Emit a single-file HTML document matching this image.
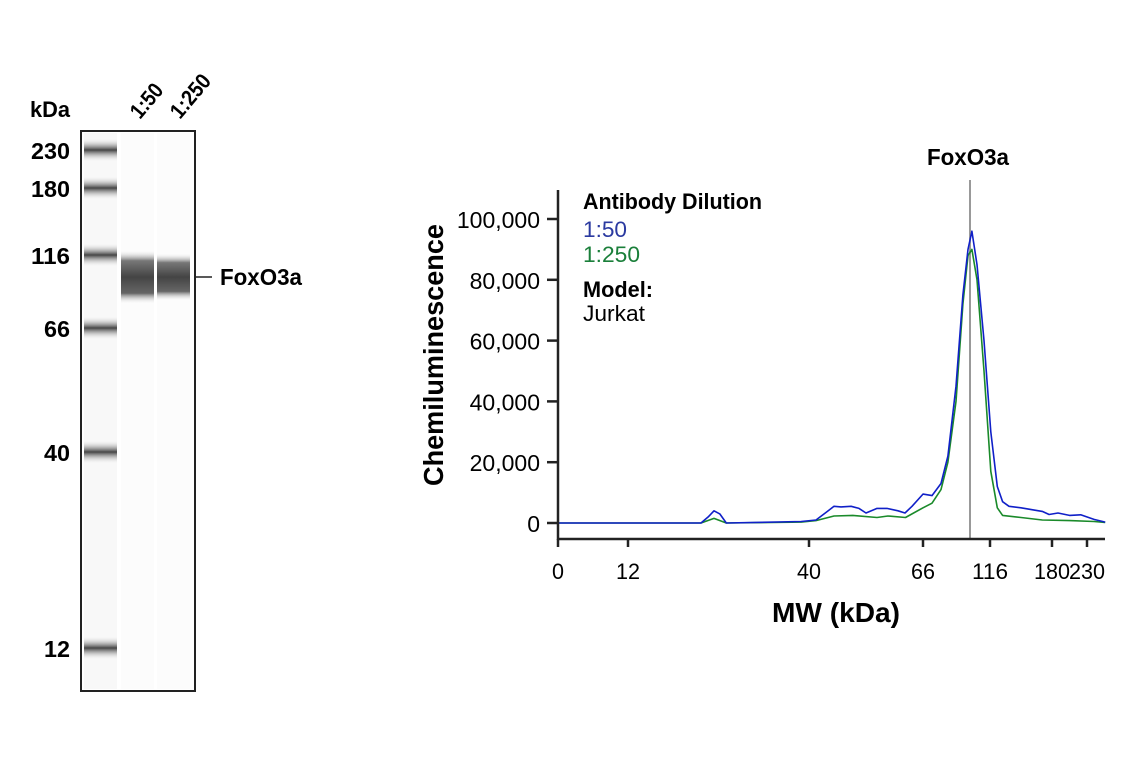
<!DOCTYPE html>
<html><head><meta charset="utf-8"><style>
body{margin:0;background:#fff;}
svg{display:block;font-family:"Liberation Sans",Arial,sans-serif;}
.b{font-weight:bold;}
</style></head><body>
<svg id="fig" width="1141" height="768" viewBox="0 0 1141 768">
<defs>
<linearGradient id="lb" x1="0" y1="0" x2="0" y2="1">
<stop offset="0" stop-color="#fff" stop-opacity="0"/><stop offset="0.5" stop-color="#444"/><stop offset="1" stop-color="#fff" stop-opacity="0"/></linearGradient>
<linearGradient id="sb" x1="0" y1="0" x2="0" y2="1">
<stop offset="0" stop-color="#fff" stop-opacity="0"/><stop offset="0.2" stop-color="#777"/><stop offset="0.5" stop-color="#444"/><stop offset="0.8" stop-color="#666"/><stop offset="1" stop-color="#fff" stop-opacity="0"/></linearGradient>
</defs>
<g id="gel">
<text x="30" y="117" font-size="22" class="b" textLength="40" lengthAdjust="spacingAndGlyphs">kDa</text>
<text transform="translate(140,120) rotate(-50)" font-size="22" class="b" textLength="38" lengthAdjust="spacingAndGlyphs">1:50</text>
<text transform="translate(180,120) rotate(-50)" font-size="22" class="b" textLength="50" lengthAdjust="spacingAndGlyphs">1:250</text>
<rect x="81" y="131" width="114" height="560" fill="#fff" stroke="#222" stroke-width="2"/>
<rect x="84" y="133" width="33" height="556" fill="#f8f8f8"/>
<rect x="121" y="133" width="33" height="556" fill="#fcfcfc"/>
<rect x="157" y="133" width="33" height="556" fill="#fcfcfc"/>
<g id="ladder"></g>
<rect x="121" y="250" width="33" height="54" fill="url(#sb)"/>
<rect x="157" y="253" width="33" height="48" fill="url(#sb)"/>
<line x1="195" y1="277" x2="212" y2="277" stroke="#222" stroke-width="1.5"/>
<text x="220" y="285" font-size="23" class="b" textLength="82" lengthAdjust="spacingAndGlyphs">FoxO3a</text>
</g>
<g id="chart">
<text x="968" y="165" font-size="23" class="b" text-anchor="middle" textLength="82" lengthAdjust="spacingAndGlyphs">FoxO3a</text>
<line x1="970" y1="180" x2="970" y2="539" stroke="#999" stroke-width="2"/>
<g id="yticks"></g><g id="xticks"></g>
<g id="series"></g>
<line x1="558" y1="190" x2="558" y2="540" stroke="#222" stroke-width="2.5"/>
<line x1="557" y1="539" x2="1105" y2="539" stroke="#222" stroke-width="2.5"/>
<text transform="translate(443,355) rotate(-90)" font-size="28" class="b" text-anchor="middle" textLength="262" lengthAdjust="spacingAndGlyphs">Chemiluminescence</text>
<text x="836" y="622" font-size="28" class="b" text-anchor="middle" textLength="128" lengthAdjust="spacingAndGlyphs">MW (kDa)</text>
<g>
<text x="583" y="209" font-size="22" class="b" textLength="179" lengthAdjust="spacingAndGlyphs">Antibody Dilution</text>
<text x="583" y="237" font-size="22" fill="#2b3aa0" textLength="44" lengthAdjust="spacingAndGlyphs">1:50</text>
<text x="583" y="262" font-size="22" fill="#1a7f3a" textLength="57" lengthAdjust="spacingAndGlyphs">1:250</text>
<text x="583" y="297" font-size="22" class="b" textLength="70" lengthAdjust="spacingAndGlyphs">Model:</text>
<text x="583" y="321" font-size="22" textLength="62" lengthAdjust="spacingAndGlyphs">Jurkat</text>
</g>
</g>
</svg>
<script>
const ladderKda=[230,180,116,66,40,12];
const ladderY=[150,188,255,328,452,648];
const yTicks=[0,20000,40000,60000,80000,100000];
const yTickLabels=["0","20,000","40,000","60,000","80,000","100,000"];
const xTicks=[0,12,40,66,116,180,230];
const xTickPx=[558,628,809,923,990,1052,1087];
const blueKda=[0,23.3,24.4,25.3,26.2,27.2,38.8,41.6,43.9,45.7,47.3,49.6,51.4,53,55.5,57.8,60.3,61.9,63.5,66,72.7,79.4,84.6,90.6,95.8,99.6,102.5,106.3,111.5,116.8,123.5,129,135.6,148,170,177,188.6,205,221,240,256];
const blueVal=[0,0,2000,4000,3000,0,500,1000,3500,5500,5300,5500,4800,3300,4800,4800,4000,3300,5500,9500,9000,13000,22000,45000,75000,90000,96000,85000,60000,30000,12000,7000,5500,5000,3800,2800,3300,2500,2700,1200,300];
const greenKda=[0,23.3,25.3,27.2,38.8,41.6,45.7,50,55.5,58,62,66,72.7,79.4,84.6,90.6,95.8,99.6,102.5,106.3,111.5,116.8,123.5,129,148,170,205,240,256];
const greenVal=[0,0,1500,0,300,800,2300,2500,1800,2300,1800,5000,6500,11000,20000,40000,72000,88000,90000,80000,50000,17000,5000,2500,1800,1000,800,500,200];
const NS='http://www.w3.org/2000/svg';
function yPx(v){return 523-(v/100000)*304;}
function xPx(k){
  for(let i=0;i<xTicks.length-1;i++){
    if(k<=xTicks[i+1]){return xTickPx[i]+(k-xTicks[i])/(xTicks[i+1]-xTicks[i])*(xTickPx[i+1]-xTickPx[i]);}
  }
  const n=xTicks.length-1;
  return xTickPx[n]+(k-xTicks[n])*(xTickPx[n]-xTickPx[n-1])/(xTicks[n]-xTicks[n-1]);
}
function mk(tag,attrs,parent){const e=document.createElementNS(NS,tag);for(const k in attrs)e.setAttribute(k,attrs[k]);parent.appendChild(e);return e;}
const lad=document.getElementById('ladder');
const gel=document.getElementById('gel');
ladderKda.forEach((k,i)=>{
  const r=mk('rect',{x:84,y:ladderY[i]-12,width:33,height:24,fill:'url(#lb)'},lad);
  
  
  const t=mk('text',{x:70,y:ladderY[i]+9,'font-size':23,'font-weight':'bold','text-anchor':'end',textLength:String(k).length*13,lengthAdjust:'spacingAndGlyphs'},gel);
  t.textContent=String(k);
  
  
});
const yt=document.getElementById('yticks');
yTicks.forEach((v,i)=>{
  const y=yPx(v);
  const l=mk('line',{x1:547,y1:y,x2:558,y2:y,stroke:'#222','stroke-width':2.5},yt);
  
  
  const t=mk('text',{x:540,y:y+9,'font-size':23,'text-anchor':'end'},yt);
  t.textContent=yTickLabels[i];
  
  
});
const xt=document.getElementById('xticks');
xTicks.forEach((k,i)=>{
  const x=xPx(k);
  const l=mk('line',{x1:x,y1:539,x2:x,y2:547,stroke:'#222','stroke-width':2.5},xt);
  
  
  const t=mk('text',{x:x,y:579,'font-size':22,'text-anchor':'middle',textLength:String(k).length*12,lengthAdjust:'spacingAndGlyphs'},xt);
  t.textContent=String(k);
  
  
});
const sg=document.getElementById('series');
function line(ks,vs,color,name){
  const d=ks.map((k,i)=>(i?'L':'M')+xPx(k).toFixed(1)+','+yPx(vs[i]).toFixed(1)).join(' ');
  const p=mk('path',{d:d,fill:'none',stroke:color,'stroke-width':1.6,'stroke-linejoin':'round'},sg);
  
  
}
line(greenKda,greenVal,'#1a8a2a','series-1-250');
line(blueKda,blueVal,'#1020c8','series-1-50');
</script>
</body></html>
